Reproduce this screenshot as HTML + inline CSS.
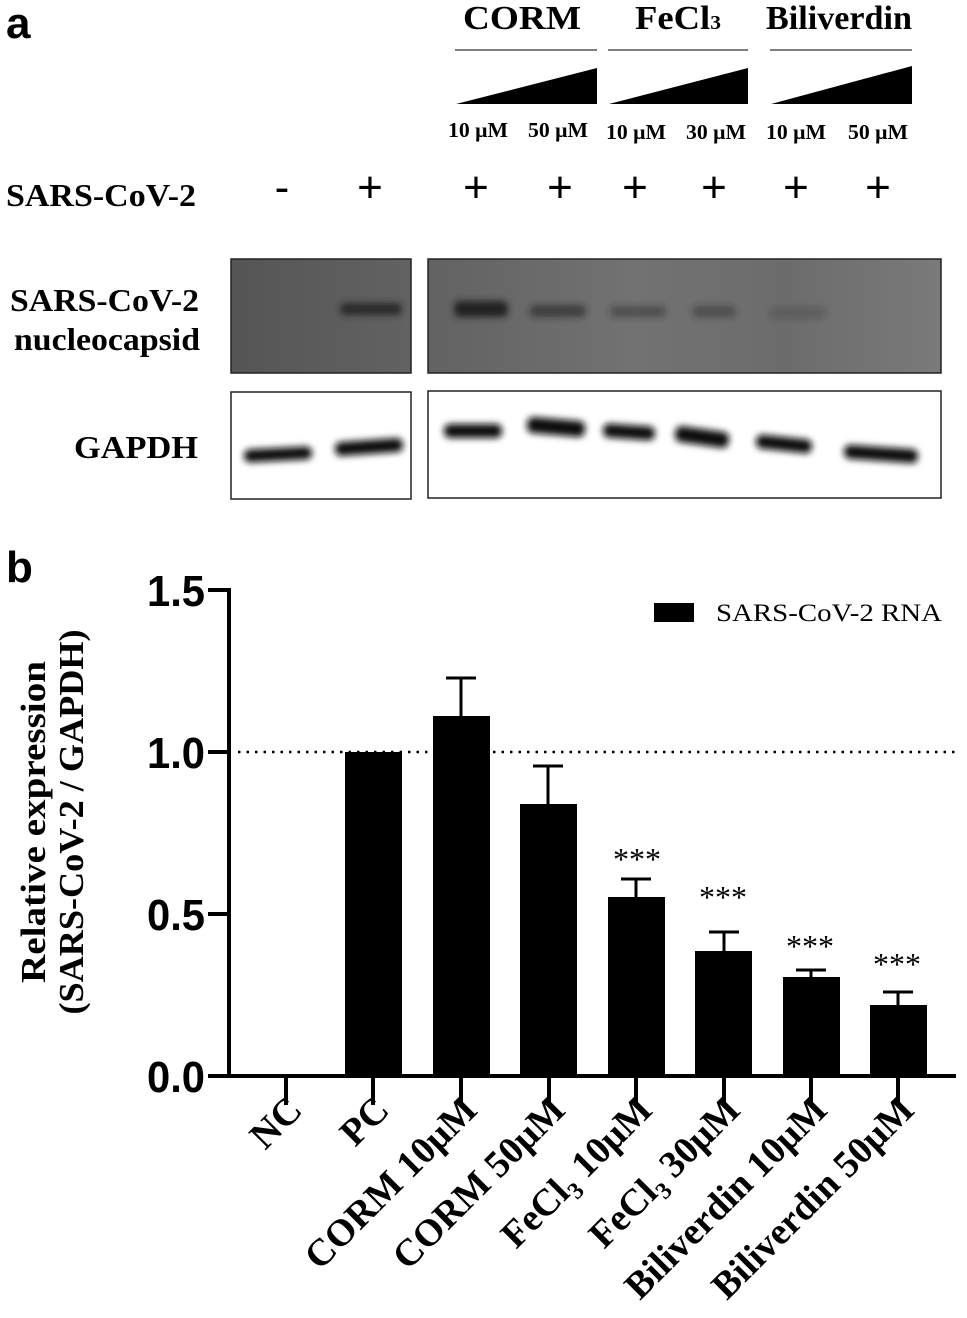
<!DOCTYPE html>
<html><head><meta charset="utf-8"><style>
html,body{margin:0;padding:0;background:#fff}
svg{display:block}
.s{font-family:"Liberation Serif",serif;font-weight:bold}
.a{font-family:"Liberation Sans",sans-serif;font-weight:bold}
</style></head><body>
<svg width="967" height="1318" viewBox="0 0 967 1318" xmlns="http://www.w3.org/2000/svg">
<defs>
<filter id="bl" x="-20%" y="-50%" width="140%" height="200%"><feGaussianBlur stdDeviation="3.5"/></filter>
<linearGradient id="g1" x1="0" y1="0" x2="1" y2="0"><stop offset="0" stop-color="#555"/><stop offset="1" stop-color="#626262"/></linearGradient>
<linearGradient id="g2" x1="0" y1="0" x2="1" y2="0"><stop offset="0" stop-color="#626262"/><stop offset="0.4" stop-color="#727272"/><stop offset="0.7" stop-color="#6c6c6c"/><stop offset="1" stop-color="#7a7a7a"/></linearGradient>
</defs>
<text x="6" y="38" class="a" font-size="44">a</text>
<g class="s" font-size="34" text-anchor="middle">
<text x="522" y="29" textLength="118" lengthAdjust="spacingAndGlyphs">CORM</text>
<text x="678" y="29" textLength="86" lengthAdjust="spacingAndGlyphs">FeCl<tspan font-size="20">3</tspan></text>
<text x="839" y="29" textLength="146" lengthAdjust="spacingAndGlyphs">Biliverdin</text>
</g>
<g stroke="#555" stroke-width="1.5">
<line x1="455" y1="50" x2="597" y2="50"/><line x1="608" y1="50" x2="748" y2="50"/><line x1="770" y1="50" x2="912" y2="50"/>
</g>
<polygon points="456,104 597,68 597,104" fill="#000"/>
<polygon points="609,104 748,68 748,104" fill="#000"/>
<polygon points="771,104 912,66 912,104" fill="#000"/>
<g class="s" font-size="21" text-anchor="middle">
<text x="478" y="137" textLength="60" lengthAdjust="spacingAndGlyphs">10 μM</text><text x="558" y="137" textLength="60" lengthAdjust="spacingAndGlyphs">50 μM</text>
<text x="636" y="139" textLength="60" lengthAdjust="spacingAndGlyphs">10 μM</text><text x="716" y="139" textLength="60" lengthAdjust="spacingAndGlyphs">30 μM</text>
<text x="796" y="139" textLength="60" lengthAdjust="spacingAndGlyphs">10 μM</text><text x="878" y="139" textLength="60" lengthAdjust="spacingAndGlyphs">50 μM</text>
</g>
<text x="6" y="206" class="s" font-size="32" textLength="190" lengthAdjust="spacingAndGlyphs">SARS-CoV-2</text>
<g font-family="Liberation Sans,sans-serif" font-size="44" text-anchor="middle">
<text x="282" y="202">-</text><text x="370" y="202">+</text><text x="476" y="202">+</text><text x="560" y="202">+</text>
<text x="635" y="202">+</text><text x="714" y="202">+</text><text x="796" y="202">+</text><text x="878" y="202">+</text>
</g>
<text x="10" y="311" class="s" font-size="32" textLength="189" lengthAdjust="spacingAndGlyphs">SARS-CoV-2</text>
<text x="14" y="350" class="s" font-size="32" textLength="186" lengthAdjust="spacingAndGlyphs">nucleocapsid</text>
<text x="74" y="458" class="s" font-size="32" textLength="124" lengthAdjust="spacingAndGlyphs">GAPDH</text>
<rect x="231" y="259" width="180" height="114" fill="url(#g1)" stroke="#222" stroke-width="1.5"/>
<rect x="428" y="259" width="513" height="114" fill="url(#g2)" stroke="#222" stroke-width="1.5"/>
<g filter="url(#bl)" fill="#222">
<rect x="340" y="303" width="62" height="12" rx="5" opacity="0.9"/>
<rect x="454" y="301" width="54" height="16" rx="6"/>
<rect x="530" y="305" width="56" height="12" rx="5" opacity="0.6"/>
<rect x="610" y="306" width="56" height="11" rx="5" opacity="0.45"/>
<rect x="692" y="306" width="44" height="11" rx="5" opacity="0.45"/>
<rect x="770" y="308" width="56" height="10" rx="5" opacity="0.25"/>
</g>
<rect x="231" y="392" width="180" height="107" fill="#fff" stroke="#222" stroke-width="1.5"/>
<rect x="428" y="391" width="513" height="107" fill="#fff" stroke="#222" stroke-width="1.5"/>
<g fill="#111" filter="url(#bl)">
<rect x="244" y="448" width="68" height="13" rx="6" transform="rotate(-3 277 455)"/>
<rect x="335" y="440" width="68" height="14" rx="6" transform="rotate(-4 369 447)"/>
<rect x="444" y="424" width="58" height="14" rx="6"/>
<rect x="527" y="419" width="58" height="16" rx="6" transform="rotate(5 556 427)"/>
<rect x="603" y="425" width="52" height="14" rx="6" transform="rotate(4 629 432)"/>
<rect x="675" y="429" width="54" height="16" rx="6" transform="rotate(8 702 437)"/>
<rect x="756" y="437" width="56" height="14" rx="6" transform="rotate(6 784 444)"/>
<rect x="844" y="447" width="74" height="14" rx="6" transform="rotate(4 881 454)"/>
</g>
<text x="6" y="582" class="a" font-size="44">b</text>
<g transform="translate(45,822) rotate(-90)" class="s" font-size="35" text-anchor="middle">
<text x="0" y="0" textLength="322" lengthAdjust="spacingAndGlyphs">Relative expression</text>
<text x="0" y="38" textLength="385" lengthAdjust="spacingAndGlyphs">(SARS-CoV-2 / GAPDH)</text>
</g>
<g class="a" font-size="44" text-anchor="end">
<text x="205" y="606" textLength="58" lengthAdjust="spacingAndGlyphs">1.5</text><text x="205" y="768" textLength="58" lengthAdjust="spacingAndGlyphs">1.0</text><text x="205" y="930" textLength="58" lengthAdjust="spacingAndGlyphs">0.5</text><text x="205" y="1092" textLength="58" lengthAdjust="spacingAndGlyphs">0.0</text>
</g>
<line x1="229" y1="590" x2="229" y2="1078" stroke="#000" stroke-width="4"/>
<g stroke="#000" stroke-width="4">
<line x1="208" y1="590" x2="231" y2="590"/><line x1="208" y1="752" x2="231" y2="752"/>
<line x1="208" y1="914" x2="231" y2="914"/><line x1="208" y1="1076" x2="956" y2="1076"/>
</g>
<line x1="238" y1="752" x2="958" y2="752" stroke="#000" stroke-width="2.5" stroke-dasharray="2.5,6"/>
<g fill="#000">
<rect x="345" y="752" width="57" height="324"/>
<rect x="433" y="716" width="57" height="360"/>
<rect x="520" y="804" width="57" height="272"/>
<rect x="608" y="897" width="57" height="179"/>
<rect x="695" y="951" width="57" height="125"/>
<rect x="783" y="977" width="57" height="99"/>
<rect x="870" y="1005" width="57" height="71"/>
</g>
<g stroke="#000" stroke-width="3">
<line x1="461" y1="716" x2="461" y2="678"/><line x1="446" y1="678" x2="476" y2="678"/>
<line x1="548" y1="804" x2="548" y2="766"/><line x1="533" y1="766" x2="563" y2="766"/>
<line x1="636" y1="897" x2="636" y2="879"/><line x1="621" y1="879" x2="651" y2="879"/>
<line x1="724" y1="951" x2="724" y2="932"/><line x1="709" y1="932" x2="739" y2="932"/>
<line x1="811" y1="977" x2="811" y2="970"/><line x1="796" y1="970" x2="826" y2="970"/>
<line x1="898" y1="1005" x2="898" y2="992"/><line x1="883" y1="992" x2="913" y2="992"/>
</g>
<g stroke="#000" stroke-width="4">
<line x1="286" y1="1076" x2="286" y2="1105"/><line x1="373" y1="1076" x2="373" y2="1105"/>
<line x1="461" y1="1076" x2="461" y2="1105"/><line x1="549" y1="1076" x2="549" y2="1105"/>
<line x1="636" y1="1076" x2="636" y2="1105"/><line x1="724" y1="1076" x2="724" y2="1105"/>
<line x1="811" y1="1076" x2="811" y2="1105"/><line x1="898" y1="1076" x2="898" y2="1105"/>
</g>
<g font-family="Liberation Serif,serif" font-size="32" text-anchor="middle">
<text x="637" y="870">***</text><text x="723" y="908">***</text>
<text x="810" y="957">***</text><text x="897" y="975">***</text>
</g>
<rect x="654" y="603" width="40" height="19" fill="#000"/>
<text x="716" y="621" font-family="Liberation Serif,serif" font-size="25" textLength="226" lengthAdjust="spacingAndGlyphs">SARS-CoV-2 RNA</text>
<g class="s" font-size="38" text-anchor="end">
<text transform="translate(304,1112) rotate(-45)">NC</text>
<text transform="translate(391,1112) rotate(-45)">PC</text>
<text transform="translate(479,1112) rotate(-45)">CORM 10μM</text>
<text transform="translate(567,1112) rotate(-45)">CORM 50μM</text>
<text transform="translate(654,1112) rotate(-45)">FeCl<tspan font-size="24" dy="8">3</tspan><tspan dy="-8"> 10μM</tspan></text>
<text transform="translate(742,1112) rotate(-45)">FeCl<tspan font-size="24" dy="8">3</tspan><tspan dy="-8"> 30μM</tspan></text>
<text transform="translate(829,1112) rotate(-45)">Biliverdin 10μM</text>
<text transform="translate(916,1112) rotate(-45)">Biliverdin 50μM</text>
</g>
</svg>
</body></html>
